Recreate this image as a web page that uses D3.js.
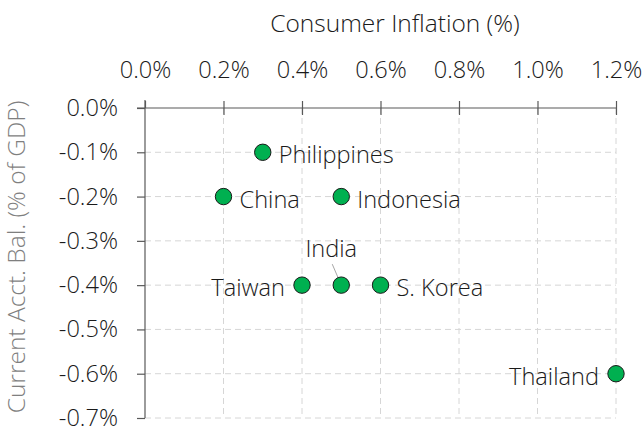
<!DOCTYPE html>
<html><head><meta charset="utf-8">
<script src="https://cdn.jsdelivr.net/npm/d3@7"></script>
<style>
html,body{margin:0;padding:0;background:#fff;overflow:hidden}
text{font-family:"Open Sans","Noto Sans",sans-serif;font-weight:350}
</style></head>
<body><svg id="c" width="642" height="427"></svg>
<script>
const countries = ["Philippines","China","Indonesia","Taiwan","India","S. Korea","Thailand"];
const inflation = [0.3, 0.2, 0.5, 0.4, 0.5, 0.6, 1.2];
const currentAcct = [-0.1, -0.2, -0.2, -0.4, -0.4, -0.4, -0.6];
const labelSide = ["right","right","right","left","above","right","left"];
const xTicks = [0, 0.2, 0.4, 0.6, 0.8, 1.0, 1.2];
const yTicks = [0, -0.1, -0.2, -0.3, -0.4, -0.5, -0.6, -0.7];

const svg = d3.select("#c");
const x = d3.scaleLinear().domain([0, 1.2]).range([145, 616]);
const y = d3.scaleLinear().domain([0, -0.7]).range([108, 418]);
const fmt = d => d.toFixed(1) + "%";
const fs = 23.6;
const FF = '"Open Sans","Noto Sans",sans-serif';

// clipped title remnant
svg.append("text").attr("x", 172).attr("y", -6).attr("font-size", 26)
  .style("font-weight", "bold").attr("fill", "#1a1a1a").text("p");

// gridlines
const grid = svg.append("g").attr("stroke", "#d6d6d6").attr("stroke-width", 1)
  .attr("stroke-dasharray", "6,4");
grid.selectAll(".vx").data(xTicks.slice(1)).join("line")
  .attr("x1", d => x(d)).attr("x2", d => x(d)).attr("y1", y(0)).attr("y2", y(-0.7));
grid.selectAll(".hy").data(yTicks.slice(1)).join("line")
  .attr("y1", d => y(d)).attr("y2", d => y(d)).attr("x1", x(0)).attr("x2", x(1.2));

// axes
const xAxis = d3.axisTop(x).tickValues(xTicks).tickFormat(fmt).tickSizeInner(7).tickSizeOuter(0).tickPadding(23);
const gx = svg.append("g").attr("transform", `translate(0,${y(0)})`).call(xAxis);
gx.selectAll(".tick line").attr("y2", 7).attr("y1", -7);
const yAxis = d3.axisLeft(y).tickValues(yTicks).tickFormat(fmt).tickSizeInner(8).tickSizeOuter(0).tickPadding(19);
const gy = svg.append("g").attr("transform", `translate(${x(0)},0)`).call(yAxis);
gy.selectAll(".tick line").attr("x1", -8).attr("x2", 0);
[gx, gy].forEach(g => {
  g.select(".domain").attr("stroke", "#595959").attr("stroke-width", 1.2);
  g.selectAll(".tick line").attr("stroke", "#595959").attr("stroke-width", 1.2);
  g.selectAll(".tick text").attr("font-size", fs).attr("fill", "#1a1a1a")
    .attr("font-family", FF).style("font-weight", 350);
});
gx.select(".domain").attr("d", `M${x(0)-8},0H${x(1.2)}`);
gy.select(".domain").attr("d", `M0,${y(0)-8}V${y(-0.7)}`);
gx.selectAll(".tick").filter(d => d === 0).select("line").attr("y2", 0);

// axis titles
svg.append("text").attr("x", 395).attr("y", 32).attr("text-anchor", "middle")
  .attr("font-size", 24.5).attr("fill", "#1a1a1a").text("Consumer Inflation (%)");
svg.append("text").attr("transform", "translate(25,257) rotate(-90)").attr("text-anchor", "middle")
  .attr("font-size", 24.5).attr("fill", "#7f7f7f").text("Current Acct. Bal. (% of GDP)");

// data
const data = countries.map((c, i) => ({c, xv: inflation[i], yv: currentAcct[i], side: labelSide[i]}));

// India leader line
data.filter(d => d.side === "above").forEach(d => {
  svg.append("line").attr("x1", x(d.xv) - 9).attr("y1", y(d.yv) - 21)
    .attr("x2", x(d.xv)).attr("y2", y(d.yv)).attr("stroke", "#a6a6a6").attr("stroke-width", 1);
});

svg.append("g").selectAll("circle").data(data).join("circle")
  .attr("cx", d => x(d.xv)).attr("cy", d => y(d.yv)).attr("r", 8.2)
  .attr("fill", "#00b050").attr("stroke", "#1a1a1a").attr("stroke-width", 1);

svg.append("g").selectAll("text").data(data).join("text")
  .attr("font-size", fs).attr("fill", "#1a1a1a")
  .attr("x", d => d.side === "right" ? x(d.xv) + 16 : d.side === "left" ? x(d.xv) - 17 : x(d.xv) - 10)
  .attr("y", d => d.side === "above" ? y(d.yv) - 28 : y(d.yv) + 11)
  .attr("text-anchor", d => d.side === "right" ? "start" : d.side === "left" ? "end" : "middle")
  .text(d => d.c);
</script></body></html>
